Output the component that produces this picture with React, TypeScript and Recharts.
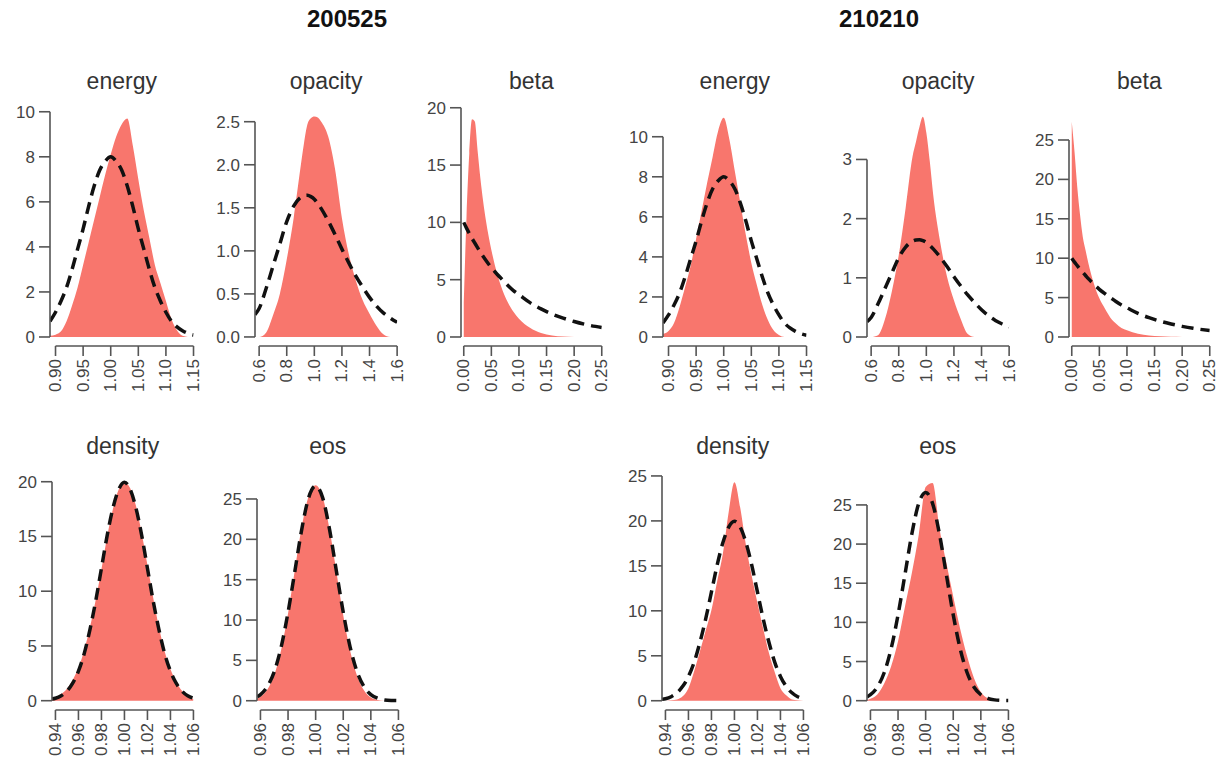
import { ComposedChart, Area, Line, XAxis, YAxis, ReferenceLine } from 'recharts';

const FONT = '"Liberation Sans", Arial, Helvetica, sans-serif';
const FILL = '#F8766D';
const AXIS = '#555555';
const TEXT = '#444444';

// x grids (shared by both runs)
const energyX = [0.89, 0.9, 0.91, 0.92, 0.93, 0.94, 0.95, 0.96, 0.97, 0.98, 0.99, 1.0, 1.01, 1.02, 1.03, 1.04, 1.05, 1.06, 1.07, 1.08, 1.09, 1.1, 1.11, 1.12, 1.13, 1.14, 1.15];
const opacityX = [0.57, 0.6, 0.65, 0.7, 0.75, 0.8, 0.85, 0.9, 0.925, 0.95, 0.975, 1.0, 1.025, 1.05, 1.1, 1.15, 1.2, 1.25, 1.3, 1.35, 1.4, 1.45, 1.5, 1.55, 1.6];
const betaX = [0, 0.005, 0.01, 0.015, 0.02, 0.025, 0.03, 0.04, 0.05, 0.06, 0.07, 0.08, 0.09, 0.1, 0.12, 0.14, 0.16, 0.18, 0.2, 0.22, 0.25];
const densityX = [0.937, 0.94, 0.945, 0.95, 0.955, 0.96, 0.965, 0.97, 0.975, 0.98, 0.985, 0.99, 0.995, 1.0, 1.005, 1.01, 1.015, 1.02, 1.025, 1.03, 1.035, 1.04, 1.045, 1.05, 1.055, 1.06];
const eosX = [0.9575, 0.96, 0.965, 0.97, 0.975, 0.98, 0.985, 0.99, 0.995, 1.0, 1.005, 1.01, 1.015, 1.02, 1.025, 1.03, 1.035, 1.04, 1.045, 1.05, 1.055, 1.06];

// priors (dashed)
const energyPrior = [0.7, 1.1, 1.6, 2.2, 3.0, 3.9, 4.8, 5.8, 6.7, 7.4, 7.8, 8.0, 7.8, 7.4, 6.7, 5.8, 4.8, 3.9, 3.0, 2.2, 1.6, 1.1, 0.7, 0.45, 0.28, 0.16, 0.09];
const opacityPrior = [0.26, 0.33, 0.56, 0.82, 1.08, 1.34, 1.52, 1.62, 1.64, 1.645, 1.63, 1.6, 1.55, 1.49, 1.35, 1.19, 1.02, 0.86, 0.71, 0.58, 0.46, 0.36, 0.28, 0.22, 0.17];
const betaPrior = [10, 9.5, 9.05, 8.6, 8.2, 7.8, 7.4, 6.7, 6.05, 5.5, 5.0, 4.5, 4.05, 3.7, 3.0, 2.45, 2.0, 1.65, 1.35, 1.1, 0.82];
const densityPrior = [0.15, 0.22, 0.45, 0.88, 1.6, 2.7, 4.3, 6.5, 9.1, 12.1, 15.1, 17.6, 19.3, 19.95, 19.3, 17.6, 15.1, 12.1, 9.1, 6.5, 4.3, 2.7, 1.6, 0.88, 0.45, 0.22];
const eosPrior = [0.48, 0.76, 1.75, 3.6, 6.65, 10.96, 16.1, 21.3, 25.2, 26.6, 25.2, 21.3, 16.1, 10.96, 6.65, 3.6, 1.75, 0.76, 0.3, 0.1, 0.03, 0.01];

// posteriors (filled), run 200525
const energyA = [0.05, 0.1, 0.25, 0.7, 1.4, 2.2, 3.2, 4.2, 5.2, 6.2, 7.2, 8.1, 8.9, 9.45, 9.7, 8.5, 7.0, 5.6, 4.4, 3.2, 2.4, 1.6, 0.8, 0.3, 0.05, 0, 0];
const opacityA = [0, 0, 0.05, 0.25, 0.5, 0.9, 1.38, 1.97, 2.25, 2.47, 2.54, 2.56, 2.55, 2.5, 2.33, 1.95, 1.38, 0.96, 0.66, 0.43, 0.27, 0.13, 0.03, 0, 0];
const betaA = [3, 10.5, 16, 19, 18.8, 16.3, 13.9, 10.2, 7.6, 5.6, 4.1, 3.0, 2.2, 1.6, 0.8, 0.35, 0.13, 0.04, 0, 0, 0];
const densityA = [0.15, 0.3, 0.6, 1.1, 1.9, 3.0, 4.6, 6.7, 9.2, 12.0, 15.0, 17.5, 19.3, 19.9, 19.4, 17.8, 15.3, 12.4, 9.4, 6.7, 4.5, 2.9, 1.7, 0.9, 0.4, 0.15];
const eosA = [0.3, 0.5, 1.4, 3.2, 6.3, 10.8, 16.3, 21.6, 25.4, 26.7, 25.3, 21.3, 16.0, 10.6, 6.2, 3.1, 1.3, 0.4, 0.1, 0, 0, 0];

// posteriors (filled), run 210210
const energyB = [0.15, 0.3, 0.7, 1.5, 2.5, 3.55, 4.9, 6.3, 7.7, 9.0, 10.3, 10.95, 9.9, 8.3, 6.7, 5.1, 3.7, 2.6, 1.6, 0.85, 0.35, 0.1, 0, 0, 0, 0, 0];
const opacityB = [0, 0, 0.03, 0.3, 0.77, 1.38, 2.18, 3.05, 3.3, 3.55, 3.72, 3.45, 2.97, 2.4, 1.61, 1.02, 0.62, 0.3, 0.05, 0, 0, 0, 0, 0, 0];
const betaB = [27.3, 23.5, 19, 15.5, 12.7, 11.0, 9.4, 6.8, 4.9, 3.6, 2.45, 1.7, 1.15, 0.85, 0.4, 0.18, 0.08, 0.02, 0, 0, 0];
const densityB = [0, 0, 0.05, 0.15, 0.5, 1.4, 3.3, 5.5, 7.8, 10.1, 13.3, 16.4, 21.0, 24.3, 21.5, 17.3, 13.9, 10.9, 8.0, 5.3, 3.2, 1.4, 0.6, 0.15, 0.05, 0];
const eosB = [0.1, 0.25, 0.8, 2.2, 4.4, 7.6, 12.0, 16.3, 21.2, 27.3, 27.8, 22.0, 17.6, 13.3, 9.2, 5.7, 2.9, 1.1, 0.3, 0.05, 0, 0];

// tick values
const energyTicks = [0.9, 0.95, 1.0, 1.05, 1.1, 1.15];
const opacityTicks = [0.6, 0.8, 1.0, 1.2, 1.4, 1.6];
const betaTicks = [0, 0.05, 0.1, 0.15, 0.2, 0.25];
const densityTicks = [0.94, 0.96, 0.98, 1.0, 1.02, 1.04, 1.06];
const eosTicks = [0.96, 0.98, 1.0, 1.02, 1.04, 1.06];

const groupTitles = [
  { text: '200525', cx: 347 },
  { text: '210210', cx: 879 },
];

const ROWS = [
  { plotTop: 105, axisY: 346, titleTop: 70 },
  { plotTop: 470, axisY: 710, titleTop: 435 },
];

const TICK_SPAN = 138; // px between first and last x tick

const panels = [
  { title: 'energy', row: 0, left: 50, xs: energyX, fill: energyA, prior: energyPrior, xDomain: [0.89, 1.15], xTicks: energyTicks, xDigits: 2, yDomain: [-0.4, 10.3], yTicks: [0, 2, 4, 6, 8, 10], yDigits: 0 },
  { title: 'opacity', row: 0, left: 255, xs: opacityX, fill: opacityA, prior: opacityPrior, xDomain: [0.57, 1.6], xTicks: opacityTicks, xDigits: 1, yDomain: [-0.105, 2.694], yTicks: [0, 0.5, 1, 1.5, 2, 2.5], yDigits: 1 },
  { title: 'beta', row: 0, left: 461, xs: betaX, fill: betaA, prior: betaPrior, xDomain: [-0.005, 0.25], xTicks: betaTicks, xDigits: 2, yDomain: [-0.786, 20.24], yTicks: [0, 5, 10, 15, 20], yDigits: 0 },
  { title: 'energy', row: 0, left: 663, xs: energyX, fill: energyB, prior: energyPrior, xDomain: [0.89, 1.15], xTicks: energyTicks, xDigits: 2, yDomain: [-0.45, 11.585], yTicks: [0, 2, 4, 6, 8, 10], yDigits: 0 },
  { title: 'opacity', row: 0, left: 867, xs: opacityX, fill: opacityB, prior: opacityPrior, xDomain: [0.57, 1.6], xTicks: opacityTicks, xDigits: 1, yDomain: [-0.152, 3.92], yTicks: [0, 1, 2, 3], yDigits: 0 },
  { title: 'beta', row: 0, left: 1069, xs: betaX, fill: betaB, prior: betaPrior, xDomain: [-0.005, 0.25], xTicks: betaTicks, xDigits: 2, yDomain: [-1.144, 29.44], yTicks: [0, 5, 10, 15, 20, 25], yDigits: 0 },
  { title: 'density', row: 1, left: 52, xs: densityX, fill: densityA, prior: densityPrior, xDomain: [0.937, 1.06], xTicks: densityTicks, xDigits: 2, yDomain: [-0.85, 21.07], yTicks: [0, 5, 10, 15, 20], yDigits: 0 },
  { title: 'eos', row: 1, left: 257, xs: eosX, fill: eosA, prior: eosPrior, xDomain: [0.9575, 1.06], xTicks: eosTicks, xDigits: 2, yDomain: [-1.15, 28.59], yTicks: [0, 5, 10, 15, 20, 25], yDigits: 0 },
  { title: 'density', row: 1, left: 662, xs: densityX, fill: densityB, prior: densityPrior, xDomain: [0.937, 1.06], xTicks: densityTicks, xDigits: 2, yDomain: [-1.03, 25.66], yTicks: [0, 5, 10, 15, 20, 25], yDigits: 0 },
  { title: 'eos', row: 1, left: 867, xs: eosX, fill: eosB, prior: eosPrior, xDomain: [0.9575, 1.06], xTicks: eosTicks, xDigits: 2, yDomain: [-1.19, 29.46], yTicks: [0, 5, 10, 15, 20, 25], yDigits: 0 },
];

function RotTick(props: any) {
  const { x, y, payload, digits } = props;
  return (
    <g transform={`translate(${x},${y})`}>
      <text
        transform="rotate(-90)"
        x={-1}
        y={0}
        textAnchor="end"
        dominantBaseline="central"
        fontSize={17}
        fontFamily={FONT}
        fill={TEXT}
      >
        {Number(payload.value).toFixed(digits)}
      </text>
    </g>
  );
}

function Panel({ p }: { p: any }) {
  const row = ROWS[p.row];
  const firstTick = p.xTicks[0];
  const lastTick = p.xTicks[p.xTicks.length - 1];
  const topTick = p.yTicks[p.yTicks.length - 1];
  const plotW = ((p.xDomain[1] - p.xDomain[0]) * TICK_SPAN) / (lastTick - firstTick);
  const plotH = row.axisY - row.plotTop;
  const ML = 50;
  const MT = 6;
  const MR = 14;
  const XH = 62;
  const data = p.xs.map((x: number, i: number) => ({ x, fill: p.fill[i], prior: p.prior[i] }));

  return (
    <>
      <div
        style={{
          position: 'absolute',
          left: p.left - 10,
          top: row.titleTop,
          width: plotW + 20,
          textAlign: 'center',
          fontSize: 23,
          lineHeight: '23px',
          color: '#333',
          fontFamily: FONT,
        }}
      >
        {p.title}
      </div>
      <div style={{ position: 'absolute', left: p.left - ML, top: row.plotTop - MT }}>
        <ComposedChart
          width={ML + plotW + MR}
          height={MT + plotH + XH}
          data={data}
          margin={{ top: MT, right: MR, bottom: 0, left: 0 }}
        >
          <XAxis
            type="number"
            dataKey="x"
            domain={p.xDomain}
            ticks={p.xTicks}
            interval={0}
            allowDataOverflow
            axisLine={false}
            tickLine={{ stroke: AXIS, strokeWidth: 1.6 }}
            tickSize={10}
            tickMargin={2}
            height={XH}
            tick={(t: any) => <RotTick {...t} digits={p.xDigits} />}
          />
          <YAxis
            type="number"
            domain={p.yDomain}
            ticks={p.yTicks}
            interval={0}
            allowDataOverflow
            width={ML}
            axisLine={false}
            tickLine={{ stroke: AXIS, strokeWidth: 1.6 }}
            tickSize={11}
            tickMargin={4}
            tick={{ fontSize: 17, fill: TEXT, fontFamily: FONT }}
            tickFormatter={(v: number) => v.toFixed(p.yDigits)}
          />
          <Area
            type="monotone"
            dataKey="fill"
            baseValue={0}
            stroke="none"
            fill={FILL}
            fillOpacity={1}
            isAnimationActive={false}
          />
          <Line
            type="monotone"
            dataKey="prior"
            stroke="#111"
            strokeWidth={3.5}
            strokeDasharray="12 7"
            dot={false}
            activeDot={false}
            isAnimationActive={false}
          />
          <ReferenceLine
            segment={[{ x: p.xDomain[0], y: 0 }, { x: p.xDomain[0], y: topTick }]}
            stroke={AXIS}
            strokeWidth={1.6}
          />
          <ReferenceLine
            segment={[{ x: firstTick, y: p.yDomain[0] }, { x: lastTick, y: p.yDomain[0] }]}
            stroke={AXIS}
            strokeWidth={1.6}
          />
        </ComposedChart>
      </div>
    </>
  );
}

export default function App() {
  return (
    <div
      style={{
        position: 'absolute',
        left: 0,
        top: 0,
        width: 1220,
        height: 773,
        background: '#fff',
        fontFamily: FONT,
      }}
    >
      {groupTitles.map((g) => (
        <div
          key={g.text}
          style={{
            position: 'absolute',
            left: g.cx - 100,
            top: 7,
            width: 200,
            textAlign: 'center',
            fontSize: 24,
            lineHeight: '24px',
            fontWeight: 'bold',
            color: '#111',
          }}
        >
          {g.text}
        </div>
      ))}
      {panels.map((p, i) => (
        <Panel key={i} p={p} />
      ))}
    </div>
  );
}
